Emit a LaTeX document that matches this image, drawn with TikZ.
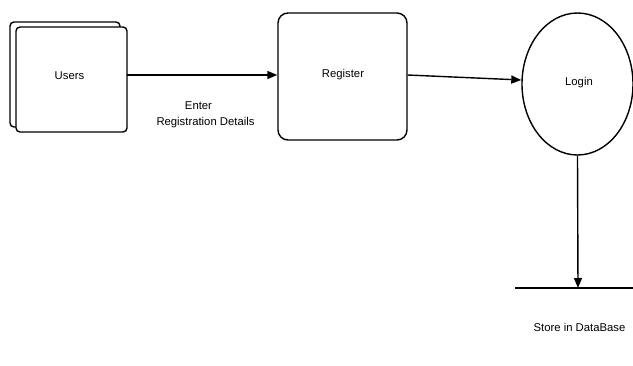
\documentclass[tikz,border=0pt]{standalone}
\usepackage{fontspec}
\setmainfont{Liberation Sans}
\usetikzlibrary{arrows.meta,shapes.geometric}
\begin{document}
\begin{tikzpicture}[x=1pt,y=-1pt,
  line width=1.4pt,
  lbl/.style={font=\fontsize{11.3}{15.5}\selectfont, inner sep=0pt},
  arr/.style={-{Triangle[length=10pt,width=8pt]}},
  sq/.style={draw, rounded corners=4pt, fill=white},
  proc/.style={draw, rounded corners=10pt, fill=white}]
\useasboundingbox (0,0) rectangle (633,365);
% Users
\draw[sq] (10,22) rectangle (120,127);
\draw[sq] (16,27) rectangle (127,132);
\node[lbl] (users) at (69.5,75.5) {Users};
\coordinate (usersR) at (127,75);
% Register
\node[proc, minimum width=129pt, minimum height=127pt, inner sep=0pt] (reg) at (342.5,76.5) {};
\node[lbl] (regtext) at (343,75) {Register};
% Login
\node[draw, ellipse, minimum width=111pt, minimum height=142pt, inner sep=0pt] (login) at (577.5,84) {};
\node[lbl] (logintext) at (579,83) {Login};
% store
\coordinate (sL) at (515,288);
\coordinate (sR) at (633,288);
\coordinate (sM) at (578,288);
\draw (sL) -- (sR);
\node[lbl] (store) at (579.5,327) {Store in DataBase};
% connectors
\draw[arr] (usersR) -- (reg.west |- usersR);
\node[lbl, align=center] (enter) at (205.5,115) {Enter\hspace*{14pt}\\Registration Details};
\draw[arr] ([yshift=1.5pt]reg.east) -- ([yshift=4pt]login.west);
\draw[arr] (login.south) -- (sM);
\end{tikzpicture}
\end{document}
